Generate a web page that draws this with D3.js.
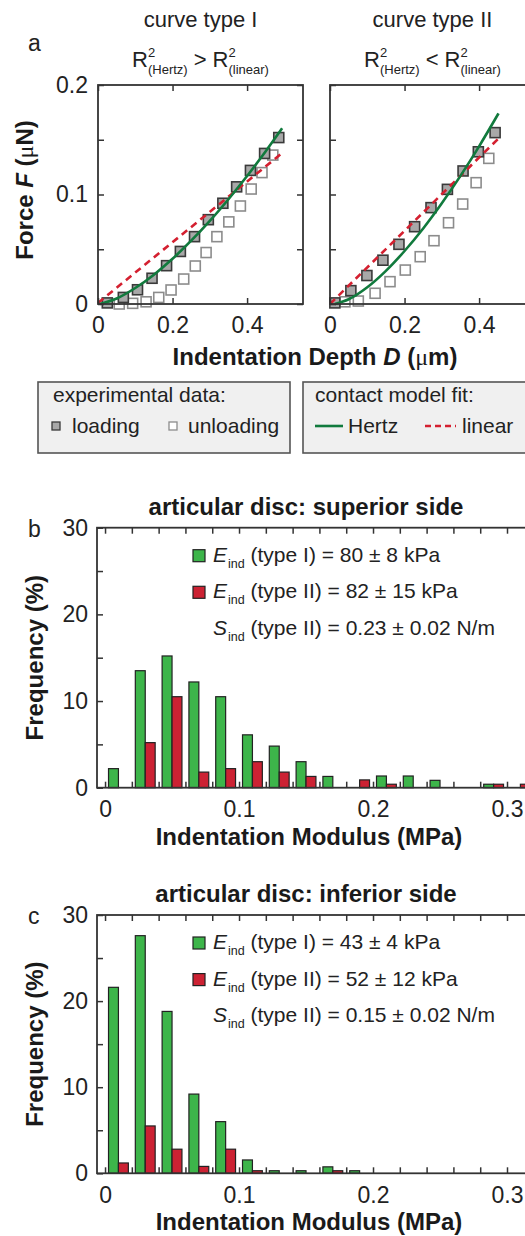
<!DOCTYPE html>
<html lang="en">
<head>
<meta charset="UTF-8">
<title>Indentation curves and modulus histograms</title>
<script src="https://cdn.jsdelivr.net/npm/d3@7"></script>
<style>
  body { margin: 0; background: #fff; }
  svg { display: block; font-family: "Liberation Sans", Arial, sans-serif; }
</style>
</head>
<body>
<script>
// ---- panel a: force (uN) vs indentation depth (um) ----
var loadingI = [[0.025,0.001],[0.068,0.006],[0.106,0.013],[0.145,0.0235],[0.184,0.035],[0.221,0.048],[0.259,0.0615],[0.296,0.077],[0.335,0.092],[0.372,0.107],[0.409,0.122],[0.447,0.1375],[0.485,0.152]];
var unloadingI = [[0.057,0.0],[0.093,0.0006],[0.129,0.002],[0.163,0.006],[0.196,0.0128],[0.23,0.0228],[0.261,0.0347],[0.29,0.047],[0.319,0.0615],[0.351,0.075],[0.382,0.0895],[0.411,0.105],[0.44,0.12],[0.469,0.136]];
var hertzI = [[0.005,0],[0.05,0.005],[0.1,0.0146],[0.15,0.0268],[0.2,0.0413],[0.25,0.0578],[0.3,0.0759],[0.35,0.0957],[0.4,0.1169],[0.45,0.1395],[0.494,0.1604]];
var linearI = [[0,0.001],[0.498,0.139]];

var loadingII = [[0.013,0.001],[0.056,0.0122],[0.099,0.026],[0.142,0.040],[0.185,0.0545],[0.227,0.0706],[0.271,0.088],[0.315,0.1047],[0.357,0.1215],[0.398,0.139],[0.443,0.1565]];
var unloadingII = [[0.04,0.002],[0.076,0.0027],[0.121,0.0098],[0.161,0.0204],[0.202,0.031],[0.242,0.0432],[0.279,0.0578],[0.318,0.0742],[0.356,0.0913],[0.392,0.1108],[0.426,0.133]];
var hertzII = [[0.013,0],[0.05,0.0043],[0.1,0.0153],[0.15,0.0303],[0.2,0.0484],[0.25,0.069],[0.3,0.092],[0.35,0.117],[0.4,0.144],[0.452,0.174]];
var linearII = [[0,0],[0.4525,0.1513]];

var depthTicks = [0, 0.2, 0.4];
var depthLabels = ["0", "0.2", "0.4"];
var forceTicks = [0, 0.05, 0.1, 0.15, 0.2];
var forceLabels = ["0", "", "0.1", "", "0.2"];

// ---- panels b, c: histograms of indentation modulus (MPa), frequency in % ----
var binCenters = [0.01,0.03,0.05,0.07,0.09,0.11,0.13,0.15,0.17,0.19,0.21,0.23,0.25,0.27,0.29,0.31];
var superiorTypeI = [2.2,13.5,15.2,12.2,10.5,6.1,4.8,3.0,1.3,0,1.35,1.35,0.85,0,0.4,0];
var superiorTypeII = [0,5.2,10.5,1.8,2.2,3.0,1.8,1.3,0,0.9,0.4,0,0,0,0.4,0.4];
var inferiorTypeI = [21.6,27.6,18.8,9.2,6.0,1.55,0.3,0.3,0.75,0.3,0,0,0,0,0,0];
var inferiorTypeII = [1.2,5.5,2.8,0.8,2.8,0.3,0,0,0.3,0,0,0,0,0,0,0];

var modulusTicks = [0,0.02,0.04,0.06,0.08,0.1,0.12,0.14,0.16,0.18,0.2,0.22,0.24,0.26,0.28,0.3,0.32];
var modulusLabels = ["0","","","","","0.1","","","","","0.2","","","","","0.3",""];
var freqTicks = [0, 5, 10, 15, 20, 25, 30];
var freqLabels = ["0", "", "10", "", "20", "", "30"];

var green = "#3db54a", red = "#cc2233", hertzColor = "#117a3d", linearColor = "#d42030";

var svg = d3.select("body").append("svg")
    .attr("width", 525)
    .attr("height", 1236);

function frameAxes(x, y, xTicks, xLabels, yTicks, yLabels, xPad, yPad) {
    var g = svg.append("g");
    var x0 = x.range()[0], x1 = x.range()[1], y0 = y.range()[0], y1 = y.range()[1];
    g.append("g").attr("transform", "translate(0," + y0 + ")")
        .call(d3.axisBottom(x).tickValues(xTicks).tickSize(-6).tickPadding(xPad)
            .tickFormat(function(d, i) { return xLabels[i]; }));
    g.append("g").attr("transform", "translate(0," + y1 + ")")
        .call(d3.axisTop(x).tickValues(xTicks).tickSize(-6).tickFormat(""));
    g.append("g").attr("transform", "translate(" + x0 + ",0)")
        .call(d3.axisLeft(y).tickValues(yTicks).tickSize(-6).tickPadding(yPad)
            .tickFormat(function(d, i) { return yLabels[i]; }));
    g.append("g").attr("transform", "translate(" + x1 + ",0)")
        .call(d3.axisRight(y).tickValues(yTicks).tickSize(-6).tickFormat(""));
    g.selectAll(".domain").remove();
    g.selectAll("g").attr("font-size", null).attr("font-family", null);
    g.selectAll(".tick line").attr("stroke", "#333").attr("stroke-width", 1.5);
    g.selectAll(".tick text").attr("font-size", 23).attr("fill", "#222");
    g.append("rect")
        .attr("x", x0).attr("y", y1)
        .attr("width", x1 - x0).attr("height", y0 - y1)
        .attr("fill", "none").attr("stroke", "#333").attr("stroke-width", 1.8);
}

// ---------- panel a ----------
var yForce = d3.scaleLinear().domain([0, 0.2]).range([304, 85]);
var xDepthI = d3.scaleLinear().domain([0, 0.55]).range([98, 303]);
var xDepthII = d3.scaleLinear().domain([0, 0.55]).range([330, 535]);

function forcePlot(x, loading, unloading, hertz, linear, showYLabels) {
    var line = d3.line()
        .x(function(d) { return x(d[0]); })
        .y(function(d) { return yForce(d[1]); })
        .curve(d3.curveMonotoneX);
    var s = 10;
    svg.append("g").selectAll("rect")
        .data(unloading)
        .enter()
        .append("rect")
        .attr("x", function(d) { return x(d[0]) - s / 2; })
        .attr("y", function(d) { return yForce(d[1]) - s / 2; })
        .attr("width", s).attr("height", s)
        .attr("fill", "#fff").attr("stroke", "#8c8c8c").attr("stroke-width", 1.6);
    svg.append("g").selectAll("rect")
        .data(loading)
        .enter()
        .append("rect")
        .attr("x", function(d) { return x(d[0]) - s / 2; })
        .attr("y", function(d) { return yForce(d[1]) - s / 2; })
        .attr("width", s).attr("height", s)
        .attr("fill", "#a8a8a8").attr("stroke", "#3a3a3a").attr("stroke-width", 1.6);
    svg.append("path").datum(linear)
        .attr("d", line).attr("fill", "none")
        .attr("stroke", linearColor).attr("stroke-width", 2.6).attr("stroke-dasharray", "7,5");
    svg.append("path").datum(hertz)
        .attr("d", line).attr("fill", "none")
        .attr("stroke", hertzColor).attr("stroke-width", 2.6);
    frameAxes(x, yForce, depthTicks, depthLabels, forceTicks,
        showYLabels ? forceLabels : forceTicks.map(function() { return ""; }), 13, 10);
}

forcePlot(xDepthI, loadingI, unloadingI, hertzI, linearI, true);
forcePlot(xDepthII, loadingII, unloadingII, hertzII, linearII, false);

// titles above the two force plots
function rTitle(cx, y, op) {
    var g = svg.append("g").attr("fill", "#222");
    var x = 0;
    function add(str, size, dy) {
        var t = g.append("text").attr("x", x).attr("y", y + dy).attr("font-size", size).text(str);
        return t.node().getComputedTextLength();
    }
    x += add("R", 22, 0);
    x += Math.max(add("2", 13, -10), add("(Hertz)", 13, 7)) + 6;
    x += add(op, 22, 0) + 6;
    x += add("R", 22, 0);
    x += Math.max(add("2", 13, -10), add("(linear)", 13, 7));
    g.attr("transform", "translate(" + (cx - x / 2) + ",0)");
}

[["curve type I", 200.5, ">"], ["curve type II", 432.5, "<"]].forEach(function(t) {
    svg.append("text").attr("x", t[1]).attr("y", 27).attr("text-anchor", "middle")
        .attr("font-size", 22).attr("fill", "#222").text(t[0]);
    rTitle(t[1], 67, t[2]);
});

svg.append("text").attr("x", 28).attr("y", 51).attr("font-size", 23).attr("fill", "#222").text("a");

var yLabA = svg.append("text")
    .attr("transform", "translate(33,190) rotate(-90)")
    .attr("text-anchor", "middle").attr("font-size", 24).attr("font-weight", "bold").attr("fill", "#1a1a1a");
yLabA.append("tspan").text("Force ");
yLabA.append("tspan").attr("font-style", "italic").text("F");
yLabA.append("tspan").text(" (");
yLabA.append("tspan").attr("font-family", "'Liberation Serif', serif").attr("font-weight", "normal").text("μ");
yLabA.append("tspan").text("N)");

var xLabA = svg.append("text")
    .attr("x", 315).attr("y", 365)
    .attr("text-anchor", "middle").attr("font-size", 24).attr("font-weight", "bold").attr("fill", "#1a1a1a");
xLabA.append("tspan").text("Indentation Depth ");
xLabA.append("tspan").attr("font-style", "italic").text("D");
xLabA.append("tspan").text(" (");
xLabA.append("tspan").attr("font-family", "'Liberation Serif', serif").attr("font-weight", "normal").text("μ");
xLabA.append("tspan").text("m)");

// legend boxes
var lg = svg.append("g").attr("font-size", 21).attr("fill", "#222");
lg.append("rect").attr("x", 38).attr("y", 382).attr("width", 252).attr("height", 71)
    .attr("fill", "#f0f0f0").attr("stroke", "#555").attr("stroke-width", 1.6);
lg.append("rect").attr("x", 303).attr("y", 382).attr("width", 250).attr("height", 71)
    .attr("fill", "#f0f0f0").attr("stroke", "#555").attr("stroke-width", 1.6);
lg.append("text").attr("x", 53).attr("y", 402).text("experimental data:");
lg.append("rect").attr("x", 52).attr("y", 422).attr("width", 8).attr("height", 8)
    .attr("fill", "#a8a8a8").attr("stroke", "#3a3a3a").attr("stroke-width", 1.3);
lg.append("text").attr("x", 72).attr("y", 433).text("loading");
lg.append("rect").attr("x", 169).attr("y", 422).attr("width", 8).attr("height", 8)
    .attr("fill", "#fff").attr("stroke", "#8c8c8c").attr("stroke-width", 1.3);
lg.append("text").attr("x", 188).attr("y", 433).text("unloading");
lg.append("text").attr("x", 315).attr("y", 402).text("contact model fit:");
lg.append("line").attr("x1", 315).attr("x2", 343).attr("y1", 426).attr("y2", 426)
    .attr("stroke", hertzColor).attr("stroke-width", 2.6);
lg.append("text").attr("x", 348).attr("y", 433).text("Hertz");
lg.append("line").attr("x1", 425).attr("x2", 456).attr("y1", 426).attr("y2", 426)
    .attr("stroke", linearColor).attr("stroke-width", 2.6).attr("stroke-dasharray", "6,4");
lg.append("text").attr("x", 462).attr("y", 433).text("linear");

// ---------- panels b, c ----------
var xModulus = d3.scaleLinear().domain([-0.006, 0.33]).range([97, 547.2]);
var halfBin = 0.0074;

function histogram(top, bottom, typeI, typeII, title, letter, stats) {
    var y = d3.scaleLinear().domain([0, 30]).range([bottom, top]);
    var bins = binCenters.map(function(c, i) { return { c: c, a: typeI[i], b: typeII[i] }; });
    var g = svg.append("g");
    g.selectAll("rect.t1")
        .data(bins.filter(function(d) { return d.a > 0; }))
        .enter()
        .append("rect")
        .attr("class", "t1")
        .attr("x", function(d) { return xModulus(d.c - halfBin); })
        .attr("y", function(d) { return y(d.a); })
        .attr("width", function(d) { return xModulus(d.c) - xModulus(d.c - halfBin); })
        .attr("height", function(d) { return y(0) - y(d.a); })
        .attr("fill", green).attr("stroke", "#222").attr("stroke-width", 1.2);
    g.selectAll("rect.t2")
        .data(bins.filter(function(d) { return d.b > 0; }))
        .enter()
        .append("rect")
        .attr("class", "t2")
        .attr("x", function(d) { return xModulus(d.c); })
        .attr("y", function(d) { return y(d.b); })
        .attr("width", function(d) { return xModulus(d.c + halfBin) - xModulus(d.c); })
        .attr("height", function(d) { return y(0) - y(d.b); })
        .attr("fill", red).attr("stroke", "#222").attr("stroke-width", 1.2);

    frameAxes(xModulus, y, modulusTicks, modulusLabels, freqTicks, freqLabels, 13, 9);

    svg.append("text").attr("x", 306).attr("y", top - 13).attr("text-anchor", "middle")
        .attr("font-size", 24).attr("font-weight", "bold").attr("fill", "#1a1a1a").text(title);
    svg.append("text").attr("x", 28).attr("y", top + 9).attr("font-size", 23).attr("fill", "#222").text(letter);
    svg.append("text")
        .attr("transform", "translate(43," + (top + bottom) / 2 + ") rotate(-90)")
        .attr("text-anchor", "middle").attr("font-size", 24).attr("font-weight", "bold")
        .attr("fill", "#1a1a1a").text("Frequency (%)");
    svg.append("text").attr("x", 309).attr("y", bottom + 57).attr("text-anchor", "middle")
        .attr("font-size", 24).attr("font-weight", "bold").attr("fill", "#1a1a1a")
        .text("Indentation Modulus (MPa)");

    // in-plot legend
    var rows = [
        { sym: "E", rest: " (type I) = " + stats[0], color: green },
        { sym: "E", rest: " (type II) = " + stats[1], color: red },
        { sym: "S", rest: " (type II) = " + stats[2], color: null }
    ];
    rows.forEach(function(r, i) {
        var base = top + 34 + i * 36.6;
        if (r.color) {
            svg.append("rect").attr("x", 193).attr("y", base - 12).attr("width", 12).attr("height", 12)
                .attr("fill", r.color).attr("stroke", "#222").attr("stroke-width", 1.2);
        }
        var t = svg.append("text").attr("x", 213).attr("y", base).attr("font-size", 21).attr("fill", "#222");
        t.append("tspan").attr("font-style", "italic").text(r.sym);
        t.append("tspan").attr("font-size", 12.5).attr("dy", 6).attr("dx", 1).text("ind");
        t.append("tspan").attr("dy", -6).text(r.rest);
    });
}

histogram(527.7, 787.7, superiorTypeI, superiorTypeII, "articular disc: superior side", "b",
    ["80 ± 8 kPa", "82 ± 15 kPa", "0.23 ± 0.02 N/m"]);
histogram(915, 1173.3, inferiorTypeI, inferiorTypeII, "articular disc: inferior side", "c",
    ["43 ± 4 kPa", "52 ± 12 kPa", "0.15 ± 0.02 N/m"]);
</script>
</body>
</html>
